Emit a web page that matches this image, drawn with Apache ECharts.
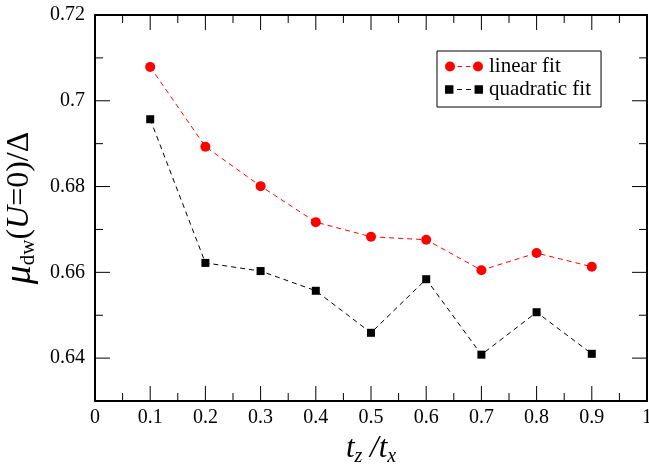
<!DOCTYPE html>
<html lang="en">
<head>
    <meta charset="UTF-8">
    <title>mu_dw vs tz/tx</title>
    <style>
        html, body { margin: 0; padding: 0; background: #fff; }
        #main { width: 649px; height: 465px; }
    </style>
</head>
<body>
<div id="main"></div>
<script src="https://cdn.jsdelivr.net/npm/echarts@6/dist/echarts.min.js"></script>
<script>
// t_z / t_x values
var tzOverTx = [0.1, 0.2, 0.3, 0.4, 0.5, 0.6, 0.7, 0.8, 0.9];
// mu_dw(U=0)/Delta
var linearFit = [0.7079, 0.6893, 0.6801, 0.6717, 0.6683, 0.6676, 0.6605, 0.6645, 0.6613];
var quadraticFit = [0.6957, 0.6622, 0.6603, 0.6557, 0.6459, 0.6584, 0.6408, 0.6507, 0.6410];
// frame tick positions
var xMajorTicks = [0, 0.1, 0.2, 0.3, 0.4, 0.5, 0.6, 0.7, 0.8, 0.9, 1];
var xMinorTicks = [0.05, 0.15, 0.25, 0.35, 0.45, 0.55, 0.65, 0.75, 0.85, 0.95];
var yMajorTicks = [0.64, 0.66, 0.68, 0.70, 0.72];
var yMinorTicks = [0.65, 0.67, 0.69, 0.71];

(function() {
    var serif = '"Liberation Serif", "DejaVu Serif", serif';

    function pairs(ys) {
        var out = [];
        for (var i = 0; i < tzOverTx.length; i ++) {
            out.push([tzOverTx[i], ys[i]]);
        }
        return out;
    }

    // legend icons: marker - - marker
    var circleIcon = 'path://M0,5a5,5 0 1,0 10,0a5,5 0 1,0 -10,0z' +
        'M12.5,4.5h4.5v1h-4.5z M21,4.5h4.5v1h-4.5z' +
        'M28,5a5,5 0 1,0 10,0a5,5 0 1,0 -10,0z';
    var squareIcon = 'path://M1,1h8v8h-8z' +
        'M12.5,4.5h4.5v1h-4.5z M21,4.5h4.5v1h-4.5z' +
        'M29,1h8v8h-8z';

    function axis(isX, pos, labels, margin) {
        var a = {
            type: 'value',
            position: pos,
            axisLine: { show: true, onZero: false, lineStyle: { color: '#000', width: 2 } },
            axisTick: { show: false },
            splitLine: { show: false },
            axisLabel: {
                show: labels,
                showMinLabel: isX,
                margin: margin,
                color: '#000',
                fontFamily: serif,
                fontSize: 20
            }
        };
        if (isX) {
            a.min = 0;
            a.max = 1;
            a.interval = 0.1;
        } else {
            a.min = 0.63;
            a.max = 0.72;
        }
        return a;
    }

    // inward ticks on both opposite frame sides, placed through the axis scale
    function tickSeries(isX, values, len) {
        var data = [];
        for (var i = 0; i < values.length; i ++) {
            data.push(isX ? [values[i], 0.63] : [0, values[i]]);
        }
        return {
            type: 'custom',
            coordinateSystem: 'cartesian2d',
            xAxisIndex: 0,
            yAxisIndex: 0,
            silent: true,
            clip: false,
            z: 3,
            data: data,
            renderItem: function(params, api) {
                var p = api.coord([api.value(0), api.value(1)]);
                var cs = params.coordSys;
                var st = { stroke: '#000', lineWidth: 1 };
                var a, b;
                if (isX) {
                    var yb = cs.y + cs.height;
                    a = { x1: p[0], y1: yb, x2: p[0], y2: yb - len };
                    b = { x1: p[0], y1: cs.y, x2: p[0], y2: cs.y + len };
                } else {
                    var xr = cs.x + cs.width;
                    a = { x1: cs.x, y1: p[1], x2: cs.x + len, y2: p[1] };
                    b = { x1: xr, y1: p[1], x2: xr - len, y2: p[1] };
                }
                return {
                    type: 'group',
                    children: [
                        { type: 'line', shape: a, style: st },
                        { type: 'line', shape: b, style: st }
                    ]
                };
            }
        };
    }

    var xBottom = axis(true, 'bottom', true, 7);
    xBottom.name = '{t|t}{sub|z}{t| /t}{sub|x}';
    xBottom.nameLocation = 'middle';
    xBottom.nameGap = 27;
    xBottom.nameTextStyle = {
        color: '#000',
        rich: {
            t: { fontFamily: serif, fontStyle: 'italic', fontSize: 31, color: '#000' },
            sub: { fontFamily: serif, fontStyle: 'italic', fontSize: 20, color: '#000', padding: [16, 0, 0, 0] }
        }
    };

    var yLeft = axis(false, 'left', true, 10);
    yLeft.name = '{mu|μ}{sub|dw}{n|(}{it|U}{n|=0)/Δ}';
    yLeft.nameLocation = 'middle';
    yLeft.nameGap = 53;
    yLeft.nameRotate = 90;
    yLeft.nameTextStyle = {
        color: '#000',
        rich: {
            mu: { fontFamily: serif, fontStyle: 'italic', fontSize: 38, color: '#000' },
            sub: { fontFamily: serif, fontSize: 21, color: '#000', padding: [18, 0, 0, 0] },
            n: { fontFamily: serif, fontSize: 32, color: '#000' },
            it: { fontFamily: serif, fontStyle: 'italic', fontSize: 32, color: '#000' }
        }
    };

    var option = {
        animation: false,
        grid: {
            left: 95,
            right: 2,
            top: 15,
            bottom: 64,
            outerBoundsMode: 'none'
        },
        legend: {
            orient: 'vertical',
            left: 437,
            top: 51,
            padding: [5, 10, 7, 8],
            itemGap: 2,
            itemWidth: 38,
            itemHeight: 10,
            borderColor: '#000',
            borderWidth: 1,
            backgroundColor: '#fff',
            textStyle: { fontFamily: serif, fontSize: 21, color: '#000', padding: [0, 0, 0, 1] },
            data: [
                { name: 'linear fit', icon: circleIcon },
                { name: 'quadratic fit', icon: squareIcon }
            ]
        },
        xAxis: [xBottom, axis(true, 'top', false, 7)],
        yAxis: [yLeft, axis(false, 'right', false, 10)],
        series: [
            tickSeries(true, xMajorTicks, 15),
            tickSeries(true, xMinorTicks, 8),
            tickSeries(false, yMajorTicks, 15),
            tickSeries(false, yMinorTicks, 8),
            {
                name: 'linear fit',
                type: 'line',
                xAxisIndex: 0,
                yAxisIndex: 0,
                z: 5,
                data: pairs(linearFit),
                symbol: 'circle',
                symbolSize: 10,
                itemStyle: { color: '#ff0000' },
                lineStyle: { color: '#ff0000', width: 1, type: [5, 4] }
            }, {
                name: 'quadratic fit',
                type: 'line',
                xAxisIndex: 0,
                yAxisIndex: 0,
                z: 5,
                data: pairs(quadraticFit),
                symbol: 'rect',
                symbolSize: 8,
                itemStyle: { color: '#000' },
                lineStyle: { color: '#000', width: 1, type: [5, 4] }
            }
        ]
    };

    var myChart = echarts.init(document.getElementById('main'));
    myChart.setOption(option);
})();
</script>
</body>
</html>
